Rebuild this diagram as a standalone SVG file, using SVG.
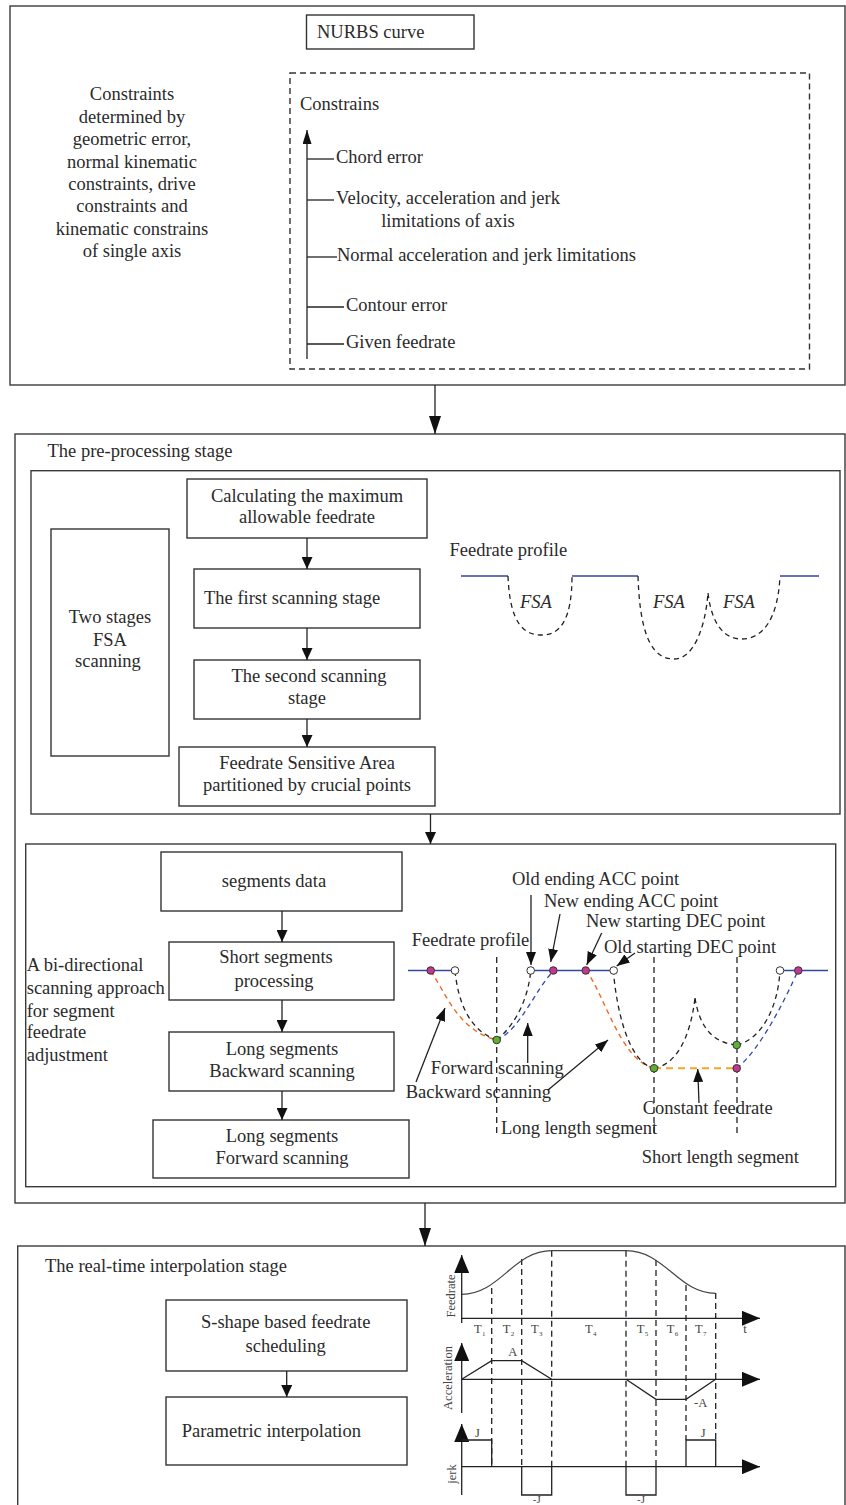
<svg xmlns="http://www.w3.org/2000/svg" width="846" height="1505" viewBox="0 0 846 1505">
<style>
.t{font-family:"Liberation Serif","Times New Roman",serif;font-size:18.5px;fill:#2a2a2a}
.m{text-anchor:middle}
.it{font-style:italic}
.s{font-size:12.5px;fill:#444}
.sub{font-size:7px;fill:#444}
.box{fill:#fff;stroke:#333;stroke-width:1.4}
.frame{fill:none;stroke:#3a3a3a;stroke-width:1.4}
.ln{fill:none;stroke:#222;stroke-width:1.3}
.dl{fill:none;stroke:#222;stroke-width:1.3;stroke-dasharray:6 4}
.blue{fill:none;stroke:#3347a0;stroke-width:1.4}
.bd{fill:none;stroke:#3347a8;stroke-width:1.3;stroke-dasharray:5 4}
.od{fill:none;stroke:#ee6a22;stroke-width:1.4;stroke-dasharray:5 4}
.cd{fill:none;stroke:#f5a623;stroke-width:2;stroke-dasharray:7 5}
.kd{fill:none;stroke:#222;stroke-width:1.3;stroke-dasharray:5 4}
.pm{fill:#c2378f;stroke:#333;stroke-width:1}
.pg{fill:#5fb030;stroke:#333;stroke-width:1}
.pw{fill:#fff;stroke:#333;stroke-width:1}
</style>
<defs>
<marker id="ah" markerUnits="userSpaceOnUse" markerWidth="18" markerHeight="12" refX="18" refY="6" orient="auto"><path d="M0,0 L18,6 L0,12 z" fill="#111"/></marker>
<marker id="ahs" markerUnits="userSpaceOnUse" markerWidth="12" markerHeight="11" refX="12" refY="5.5" orient="auto"><path d="M0,0 L12,5.5 L0,11 z" fill="#111"/></marker>
<marker id="ahp" markerUnits="userSpaceOnUse" markerWidth="13" markerHeight="10" refX="13" refY="5" orient="auto"><path d="M0,0 L13,5 L0,10 z" fill="#111"/></marker>
<marker id="aha" markerUnits="userSpaceOnUse" markerWidth="18" markerHeight="15" refX="18" refY="7.5" orient="auto"><path d="M0,0 L18,7.5 L0,15 z" fill="#111"/></marker>
<marker id="ahc" markerUnits="userSpaceOnUse" markerWidth="14" markerHeight="9" refX="14" refY="4.5" orient="auto"><path d="M0,0 L14,4.5 L0,9 z" fill="#111"/></marker>
</defs>

<!-- Top section -->
<g id="top-frame"><rect class="frame" x="10" y="6" width="835" height="379"/></g>
<g id="nurbs"><rect class="box" x="306.5" y="15" width="167.5" height="34"/><text class="t" x="317" y="38">NURBS curve</text></g>
<g id="constraints-desc">
<text class="t m" x="132" y="100">Constraints</text>
<text class="t m" x="132" y="123">determined by</text>
<text class="t m" x="132" y="145">geometric error,</text>
<text class="t m" x="132" y="168">normal kinematic</text>
<text class="t m" x="132" y="190">constraints, drive</text>
<text class="t m" x="132" y="212">constraints and</text>
<text class="t m" x="132" y="235">kinematic constrains</text>
<text class="t m" x="132" y="257">of single axis</text>
</g>
<g id="constrains-box">
<rect x="290" y="73" width="519.5" height="296" fill="none" stroke="#333" stroke-width="1.4" stroke-dasharray="6 4"/>
<text class="t" x="300" y="110">Constrains</text>
<line class="ln" x1="307" y1="359" x2="307" y2="130" marker-end="url(#ahc)"/>
<line class="ln" x1="307" y1="159" x2="334" y2="159"/>
<text class="t" x="336" y="163">Chord error</text>
<line class="ln" x1="307" y1="200" x2="334" y2="200"/>
<text class="t m" x="448" y="204">Velocity, acceleration and jerk</text>
<text class="t m" x="448" y="227">limitations of axis</text>
<line class="ln" x1="307" y1="257" x2="337" y2="257"/>
<text class="t" x="337" y="261">Normal acceleration and jerk limitations</text>
<line class="ln" x1="307" y1="307" x2="344" y2="307"/>
<text class="t" x="346" y="311">Contour error</text>
<line class="ln" x1="307" y1="344" x2="344" y2="344"/>
<text class="t" x="346" y="348">Given feedrate</text>
</g>

<!-- Pre-processing stage -->
<g id="preprocessing-frame">
<rect class="frame" x="15" y="434" width="830" height="769"/>
<text class="t" x="47.5" y="457">The pre-processing stage</text>
<rect class="frame" x="31" y="470.7" width="809" height="343.3"/>
</g>
<g id="calc"><rect class="box" x="187" y="479" width="240" height="59"/><text class="t m" x="307" y="502">Calculating the maximum</text><text class="t m" x="307" y="523">allowable feedrate</text></g>
<g id="first"><rect class="box" x="194" y="569" width="226" height="59"/><text class="t" x="204" y="604">The first scanning stage</text></g>
<g id="second"><rect class="box" x="194" y="660" width="226" height="59"/><text class="t m" x="309" y="682">The second scanning</text><text class="t m" x="307" y="704">stage</text></g>
<g id="fsa-area"><rect class="box" x="179" y="747" width="256" height="59"/><text class="t m" x="307" y="769">Feedrate Sensitive Area</text><text class="t m" x="307" y="791">partitioned by crucial points</text></g>
<g id="two-stages"><rect class="box" x="51" y="529" width="118" height="227"/><text class="t m" x="110" y="623">Two stages</text><text class="t m" x="110" y="646">FSA</text><text class="t m" x="108" y="667">scanning</text></g>
<g id="fsa-profile">
<text class="t" x="449.5" y="556">Feedrate profile</text>
<path class="blue" d="M461,576 H508 M572,576 H638 M780,576 H819"/>
<path class="kd" d="M508,576 C510,626 525,635 542,635 C560,635 572,620 572,576"/>
<path class="kd" d="M638,576 C640,642 655,659 674,659 C693,659 705,630 708,593"/>
<path class="kd" d="M708,593 C712,626 725,639 742,639 C762,639 778,620 780,576"/>
<text class="t it" x="520" y="608">FSA</text>
<text class="t it" x="653" y="608">FSA</text>
<text class="t it" x="723" y="608">FSA</text>
</g>

<!-- Bi-directional -->
<g id="bidir-frame"><rect class="frame" x="25.7" y="844" width="810" height="342.7"/></g>
<g id="bidir-label">
<text class="t" x="26.7" y="971">A bi-directional</text>
<text class="t" x="26.7" y="994">scanning approach</text>
<text class="t" x="26.7" y="1016.7">for segment</text>
<text class="t" x="26.7" y="1038">feedrate</text>
<text class="t" x="26.7" y="1061">adjustment</text>
</g>
<g id="segdata"><rect class="box" x="161" y="852" width="241" height="59"/><text class="t m" x="274" y="887">segments data</text></g>
<g id="short"><rect class="box" x="169" y="942" width="225" height="58"/><text class="t m" x="276" y="963">Short segments</text><text class="t m" x="274" y="987">processing</text></g>
<g id="backward"><rect class="box" x="169" y="1032" width="225" height="59"/><text class="t m" x="282" y="1055">Long segments</text><text class="t m" x="282" y="1077">Backward scanning</text></g>
<g id="forward"><rect class="box" x="153" y="1120" width="256" height="58"/><text class="t m" x="282" y="1142">Long segments</text><text class="t m" x="282" y="1164">Forward scanning</text></g>

<g id="bidir-profile">
<path class="dl" d="M496.7,957 V1135 M654,957 V1135 M737,957 V1135"/>
<path class="blue" d="M408,970.5 H455 M530.7,970.5 H613.7 M780,970.5 H828"/>
<path class="od" d="M430.7,971 C447,995 458,1030 496.7,1040"/>
<path class="kd" d="M455,971 C458,1000 468,1030 496.7,1040"/>
<path class="bd" d="M496.7,1040 C520,1030 535,990 553.3,971"/>
<path class="kd" d="M496.7,1040 C515,1025 528,1000 530.7,971"/>
<path class="od" d="M585.7,970 C605,995 620,1060 654,1068.3"/>
<path class="kd" d="M613.3,970 C616,1005 627,1062 654,1068.3"/>
<path class="kd" d="M654,1068.3 C675,1065 690,1040 695,998"/>
<path class="kd" d="M695,998 C700,1030 715,1043 736.7,1045"/>
<path class="kd" d="M736.7,1045 C760,1040 778,1010 780,970"/>
<path class="bd" d="M736.7,1068.3 C760,1050 785,1000 798.3,970"/>
<path class="cd" d="M654,1068.3 H736.7"/>
<circle class="pm" cx="430.7" cy="970.5" r="3.8"/>
<circle class="pw" cx="455" cy="970.5" r="3.8"/>
<circle class="pw" cx="530.7" cy="970.5" r="3.8"/>
<circle class="pm" cx="553.3" cy="970.5" r="3.8"/>
<circle class="pm" cx="585.7" cy="970.5" r="3.8"/>
<circle class="pw" cx="613.7" cy="970.5" r="3.8"/>
<circle class="pw" cx="780" cy="970.5" r="3.8"/>
<circle class="pm" cx="798.3" cy="970.5" r="3.8"/>
<circle class="pg" cx="496.7" cy="1040" r="3.8"/>
<circle class="pg" cx="654" cy="1068.3" r="3.8"/>
<circle class="pm" cx="736.7" cy="1068.3" r="3.8"/>
<circle class="pg" cx="736.7" cy="1045" r="3.8"/>
<text class="t" x="512" y="885">Old ending ACC point</text>
<text class="t" x="544" y="906.7">New ending ACC point</text>
<text class="t" x="586" y="927">New starting DEC point</text>
<text class="t" x="411.7" y="946">Feedrate profile</text>
<text class="t" x="604" y="953">Old starting DEC point</text>
<text class="t" x="430.7" y="1074">Forward scanning</text>
<text class="t" x="405.7" y="1098">Backward scanning</text>
<text class="t" x="642.7" y="1114">Constant feedrate</text>
<text class="t" x="501" y="1134">Long length segment</text>
<text class="t" x="641.7" y="1162.7">Short length segment</text>
</g>

<!-- Real-time stage -->
<g id="realtime-frame">
<rect class="frame" x="17.7" y="1246" width="827.3" height="290"/>
<text class="t" x="45" y="1272">The real-time interpolation stage</text>
</g>
<g id="sshape"><rect class="box" x="166" y="1300" width="241" height="71"/><text class="t m" x="285.7" y="1328">S-shape based feedrate</text><text class="t m" x="285.7" y="1352">scheduling</text></g>
<g id="parametric"><rect class="box" x="166" y="1397" width="241" height="68"/><text class="t" x="181.7" y="1437">Parametric interpolation</text></g>

<g id="s-curve-chart">
<path class="dl" d="M491.7,1288 V1466.7 M521.7,1259 V1466.7 M551.7,1250.7 V1466.7 M626,1250.7 V1466.7 M656,1260 V1466.7 M686,1285 V1440 M715.7,1293 V1440"/>
<path fill="none" stroke="#444" stroke-width="1.2" d="M461.7,1294.3 C500,1294.3 513,1250.7 551.7,1250.7 H626 C665,1250.7 678,1293.3 715.7,1293.3"/>
<line class="ln" x1="461.7" y1="1323" x2="461.7" y2="1255" marker-end="url(#aha)"/>
<line class="ln" x1="461.7" y1="1318.3" x2="760" y2="1318.3" marker-end="url(#aha)"/>
<line class="ln" x1="461.7" y1="1413" x2="461.7" y2="1343" marker-end="url(#aha)"/>
<line class="ln" x1="461.7" y1="1379.3" x2="760" y2="1379.3" marker-end="url(#aha)"/>
<line class="ln" x1="461.7" y1="1495" x2="461.7" y2="1424" marker-end="url(#aha)"/>
<line class="ln" x1="461.7" y1="1466.7" x2="760" y2="1466.7" marker-end="url(#aha)"/>
<path class="ln" d="M461.7,1379.3 L491.7,1360.7 H521.7 L551.7,1379.3 M626,1379.3 L656,1399.3 H686 L715.7,1379.3"/>
<path class="ln" d="M461.7,1440 H491.7 V1466.7 M521.7,1466.7 V1495 H551.7 V1466.7 M626,1466.7 V1495 H656 V1466.7 M686,1466.7 V1440 H715.7 V1466.7"/>
<text class="t s m" transform="translate(455,1296) rotate(-90)">Feedrate</text>
<text class="t s m" transform="translate(452,1378) rotate(-90)">Acceleration</text>
<text class="t s m" transform="translate(456,1474) rotate(-90)">jerk</text>
<text class="t s" x="474" y="1333.3">T</text><text class="t sub" x="482" y="1336">1</text>
<text class="t s" x="502.7" y="1333.3">T</text><text class="t sub" x="510.7" y="1336">2</text>
<text class="t s" x="531" y="1333.3">T</text><text class="t sub" x="539" y="1336">3</text>
<text class="t s" x="585" y="1333.3">T</text><text class="t sub" x="593" y="1336">4</text>
<text class="t s" x="636.7" y="1333.3">T</text><text class="t sub" x="644.7" y="1336">5</text>
<text class="t s" x="666.7" y="1333.3">T</text><text class="t sub" x="674.7" y="1336">6</text>
<text class="t s" x="695" y="1333.3">T</text><text class="t sub" x="703" y="1336">7</text>
<text class="t s" x="743.3" y="1333.3">t</text>
<text class="t s m" x="512.7" y="1356">A</text>
<text class="t s" x="694" y="1406.7">-A</text>
<text class="t s" x="475" y="1437.3">J</text>
<text class="t s" x="700.7" y="1437.3">J</text>
<text class="t s m" x="536.7" y="1503" style="font-size:11px">-J</text>
<text class="t s m" x="641" y="1503" style="font-size:11px">-J</text>
</g>

<!-- Connectors -->
<g id="connectors">
<line class="ln" x1="435" y1="385" x2="435" y2="434" marker-end="url(#ah)"/>
<line class="ln" x1="307" y1="538" x2="307" y2="569" marker-end="url(#ahs)"/>
<line class="ln" x1="307" y1="628" x2="307" y2="660" marker-end="url(#ahs)"/>
<line class="ln" x1="307" y1="719" x2="307" y2="747" marker-end="url(#ahs)"/>
<line class="ln" x1="430.5" y1="814" x2="430.5" y2="844" marker-end="url(#ahs)"/>
<line class="ln" x1="282" y1="911" x2="282" y2="942" marker-end="url(#ahs)"/>
<line class="ln" x1="282" y1="1000" x2="282" y2="1032" marker-end="url(#ahs)"/>
<line class="ln" x1="282" y1="1091" x2="282" y2="1120" marker-end="url(#ahs)"/>
<line class="ln" x1="425" y1="1203" x2="425" y2="1246" marker-end="url(#ah)"/>
<line class="ln" x1="286.7" y1="1371" x2="286.7" y2="1397" marker-end="url(#ahs)"/>
<line class="ln" x1="531" y1="895" x2="531" y2="965" marker-end="url(#ahp)"/>
<line class="ln" x1="560" y1="914" x2="550.7" y2="962" marker-end="url(#ahp)"/>
<line class="ln" x1="601.7" y1="933" x2="586.7" y2="965" marker-end="url(#ahp)"/>
<line class="ln" x1="635" y1="953" x2="616.7" y2="966" marker-end="url(#ahp)"/>
<line class="ln" x1="416" y1="1082" x2="445" y2="1008" marker-end="url(#ahp)"/>
<line class="ln" x1="527.7" y1="1063" x2="527.7" y2="1023" marker-end="url(#ahp)"/>
<line class="ln" x1="548" y1="1090" x2="608" y2="1040" marker-end="url(#ahp)"/>
<line class="ln" x1="699" y1="1103" x2="697.7" y2="1069" marker-end="url(#ahp)"/>
</g>
</svg>
